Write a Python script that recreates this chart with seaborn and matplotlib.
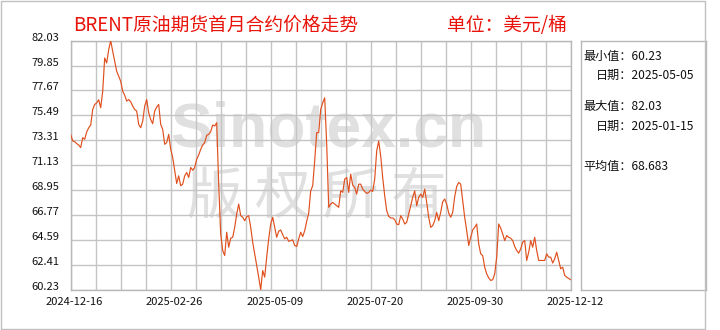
import numpy as np
import pandas as pd
import matplotlib
matplotlib.use("Agg")
import matplotlib.pyplot as plt
from matplotlib.transforms import ScaledTranslation
from matplotlib.patches import Rectangle
import seaborn as sns

# ---------------- data ----------------
title = "BRENT原油期货首月合约价格走势"
unit = "单位：美元/桶"
x_tick_labels = ["2024-12-16", "2025-02-26", "2025-05-09", "2025-07-20", "2025-09-30", "2025-12-12"]
y_tick_labels = ["60.23", "62.41", "64.59", "66.77", "68.95", "71.13", "73.31", "75.49", "77.67", "79.85", "82.03"]

prices = [
    73.83, 73.25, 73.19, 73.02, 72.90, 72.67, 73.54, 73.40, 74.04, 74.41,
    74.65, 76.01, 76.45, 76.59, 76.86, 76.16, 77.61, 80.52, 80.08, 81.25,
    82.03, 81.10, 80.23, 79.36, 78.92, 78.48, 77.61, 77.26, 76.74, 76.88,
    76.68, 76.30, 76.01, 75.87, 74.70, 74.41, 74.99, 76.30, 76.88, 75.72,
    75.14, 74.76, 75.87, 76.22, 76.45, 74.70, 74.27, 72.96, 73.11, 73.83,
    72.52, 71.80, 70.64, 69.53, 70.20, 69.33, 69.47, 70.20, 70.49, 70.05,
    70.93, 70.69, 70.93, 71.65, 72.03, 72.52, 72.90, 73.11, 73.75, 73.83,
    74.07, 74.65, 74.56, 74.85, 69.47, 65.11, 63.66, 63.22, 65.26, 63.95,
    64.74, 64.82, 65.69, 66.86, 67.73, 66.71, 66.57, 66.27, 66.62, 66.71,
    65.69, 64.38, 63.37, 62.35, 61.33, 60.23, 61.91, 61.33, 63.08, 64.68,
    65.98, 66.57, 65.69, 64.82, 65.35, 65.46, 65.05, 64.68, 64.82, 64.47,
    64.53, 64.59, 64.10, 64.01, 64.68, 65.26, 64.88, 65.40, 66.22, 66.92,
    68.89, 69.33, 71.51, 73.98, 73.98, 76.01, 76.59, 77.03, 72.96, 67.44,
    67.73, 67.87, 67.73, 67.58, 67.44, 68.89, 68.75, 69.91, 70.05, 68.75,
    70.35, 69.39, 69.18, 68.60, 69.47, 69.47, 69.04, 68.83, 68.66, 68.75,
    68.95, 68.83, 69.91, 72.38, 73.25, 71.94, 70.05, 68.46, 67.15, 66.65,
    66.51, 66.51, 66.36, 65.98, 65.92, 66.71, 66.42, 65.98, 66.13, 66.86,
    67.58, 68.31, 68.89, 67.58, 68.31, 68.60, 68.31, 69.04, 67.87, 66.57,
    65.69, 65.84, 66.27, 67.00, 66.27, 67.00, 67.93, 68.17, 67.73, 66.94,
    66.57, 67.00, 68.37, 69.27, 69.62, 69.47, 68.02, 66.57, 65.40, 64.10,
    64.82, 65.46, 65.69, 65.98, 64.24, 63.37, 63.22, 62.20, 61.62, 61.27,
    61.04, 61.10, 61.62, 63.08, 65.98, 65.63, 65.11, 64.53, 64.97, 64.82,
    64.74, 64.53, 64.01, 63.66, 63.43, 63.80, 64.39, 64.53, 62.79, 63.51,
    64.53, 63.95, 64.82, 63.66, 62.79, 62.79, 62.79, 62.79, 63.37, 63.08,
    63.08, 62.56, 62.94, 63.51, 62.79, 62.06, 62.20, 61.48, 61.33, 61.22,
    61.10,
]

stat_min = "60.23"
stat_min_date = "2025-05-05"
stat_max = "82.03"
stat_max_date = "2025-01-15"
stat_avg = "68.683"

# ---------------- style ----------------
sns.set_style("white")
plt.rcParams["font.family"] = ["Noto Sans CJK SC", "DejaVu Sans"]

W, H = 720, 330
fig = plt.figure(figsize=(W / 100, H / 100), dpi=100)

def fx(px):
    return px / W

def fy(py):
    return 1 - py / H

left, right, top, bottom = 70.7, 570.7, 40.7, 289.7
ax = fig.add_axes([fx(left), fy(bottom), fx(right - left), (bottom - top) / H])

df = pd.DataFrame({"idx": np.arange(len(prices)), "price": prices})
sns.lineplot(data=df, x="idx", y="price", ax=ax, color="#E0501E", linewidth=0.85, zorder=3)

n = len(prices) - 1
ax.set_xlim(0, n)
yvals = [float(v) for v in y_tick_labels]
ax.set_ylim(yvals[0], yvals[-1])
ax.set_yticks(yvals)
ax.set_yticklabels(y_tick_labels)
major_x = np.linspace(0, n, len(x_tick_labels))
ax.set_xticks(major_x)
ax.set_xticklabels(x_tick_labels)
ax.set_xticks(np.linspace(0, n, 21), minor=True)
ax.set_xlabel("")
ax.set_ylabel("")

ax.set_axisbelow(True)
ax.grid(True, which="both", axis="x", color="#c4c4c4", linewidth=1.0, zorder=1)
ax.grid(True, which="major", axis="y", color="#c4c4c4", linewidth=1.0, zorder=1)
for s in ax.spines.values():
    s.set_color("#b8b8b8")
    s.set_linewidth(1.0)
ax.tick_params(axis="both", which="both", length=0, labelsize=8, colors="#111111")
ax.tick_params(axis="y", pad=8)
ax.tick_params(axis="x", pad=5)
for lab in ax.get_yticklabels():
    lab.set_transform(lab.get_transform() + ScaledTranslation(0, 4 / 100, fig.dpi_scale_trans))
for lab in ax.get_xticklabels():
    lab.set_transform(lab.get_transform() + ScaledTranslation(4 / 100, 0, fig.dpi_scale_trans))

# watermark
ax.text(fx(328), fy(130), "Sinotex.cn", transform=fig.transFigure, fontsize=45,
        fontweight="bold", family="Liberation Sans", color="#e0e0e0",
        ha="center", va="center", zorder=0.2)
ax.text(fx(317), fy(198), "版 权 所 有", transform=fig.transFigure, fontsize=40,
        color="#e0e0e0", ha="center", va="center", zorder=0.2)

# title
fig.text(fx(73), fy(25), title, color="#E8140C", fontsize=13.5, ha="left", va="center")
fig.text(fx(447), fy(25), unit, color="#E8140C", fontsize=13.5, ha="left", va="center")

# side panel
pax = fig.add_axes([fx(580.7), fy(bottom), fx(705.7 - 580.7), (bottom - top) / H])
pax.set_xticks([])
pax.set_yticks([])
for s in pax.spines.values():
    s.set_color("#b8b8b8")
    s.set_linewidth(1.0)

fs = 8.7
fig.text(fx(583), fy(56), "最小值：" + stat_min, fontsize=fs, ha="left", va="center", color="#111111")
fig.text(fx(596), fy(75), "日期：" + stat_min_date, fontsize=fs, ha="left", va="center", color="#111111")
fig.text(fx(583), fy(106), "最大值：" + stat_max, fontsize=fs, ha="left", va="center", color="#111111")
fig.text(fx(596), fy(126), "日期：" + stat_max_date, fontsize=fs, ha="left", va="center", color="#111111")
fig.text(fx(583), fy(166), "平均值：" + stat_avg, fontsize=fs, ha="left", va="center", color="#111111")

# outer frame
fig.patches.append(Rectangle((fx(1), fy(329)), fx(704), (328) / H, transform=fig.transFigure,
                             fill=False, edgecolor="#c0c0c0", linewidth=1.0))

fig.savefig("out.png", dpi=100)
